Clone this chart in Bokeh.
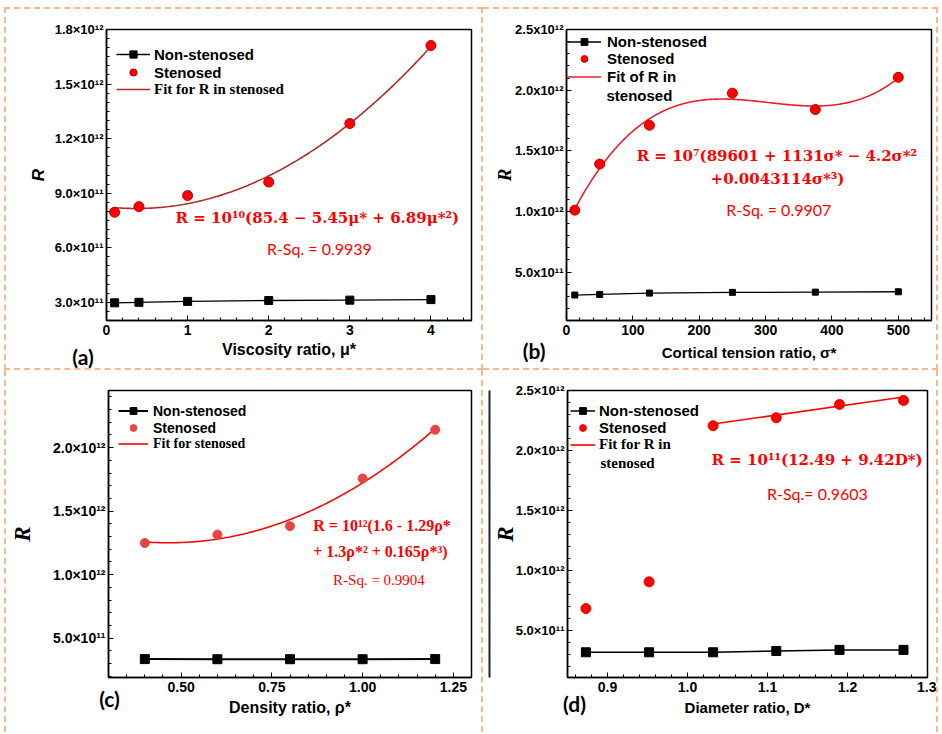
import numpy as np
from bokeh.plotting import figure
from bokeh.layouts import column, row
from bokeh.models import (FixedTicker, CustomJSTickFormatter, NumeralTickFormatter,
                          Legend, LegendItem, Label, LinearAxis)
from bokeh.embed import file_html
from bokeh.resources import INLINE

# ---------------- data ----------------
# (a) viscosity ratio
a_x = [0.1, 0.4, 1, 2, 3, 4]
a_sten = [7.95e11, 8.26e11, 8.87e11, 9.61e11, 1.283e12, 1.712e12]
a_non = [2.97e11, 3.00e11, 3.05e11, 3.10e11, 3.12e11, 3.15e11]
a_xticks = [0, 1, 2, 3, 4]
a_yticks = [3e11, 6e11, 9e11, 1.2e12, 1.5e12, 1.8e12]

# (b) cortical tension ratio
b_x = [12.5, 50, 125, 250, 375, 500]
b_sten = [1.01e12, 1.39e12, 1.71e12, 1.975e12, 1.84e12, 2.106e12]
b_non = [3.10e11, 3.15e11, 3.26e11, 3.32e11, 3.34e11, 3.37e11]
b_xticks = [0, 100, 200, 300, 400, 500]
b_yticks = [5e11, 1e12, 1.5e12, 2e12, 2.5e12]

# (c) density ratio
c_x = [0.4, 0.6, 0.8, 1.0, 1.2]
c_sten = [1.249e12, 1.315e12, 1.382e12, 1.757e12, 2.141e12]
c_non = [3.35e11, 3.34e11, 3.34e11, 3.34e11, 3.35e11]
c_xticks = [0.5, 0.75, 1.0, 1.25]
c_yticks = [5e11, 1e12, 1.5e12, 2e12]

# (d) diameter ratio
d_x = [0.873, 0.952, 1.032, 1.111, 1.190, 1.270]
d_sten = [6.84e11, 9.07e11, 2.207e12, 2.273e12, 2.384e12, 2.417e12]
d_non = [3.20e11, 3.20e11, 3.20e11, 3.31e11, 3.40e11, 3.40e11]
d_fit_coef = [12.49e11, 9.42e11]   # intercept, slope (R = 10^11(12.49 + 9.42 D*))
d_xticks = [0.9, 1.0, 1.1, 1.2, 1.3]
d_yticks = [5e11, 1e12, 1.5e12, 2e12, 2.5e12]

SANS = "Liberation Sans"
SERIF = "Liberation Serif"
RED = "#ff0000"
DASH = "2px dashed #f6b98e"
EM = "\u2003"

SUP_JS = """
const sup = {"0":"\u2070","1":"\u00b9","2":"\u00b2","3":"\u00b3","4":"\u2074","5":"\u2075","6":"\u2076","7":"\u2077","8":"\u2078","9":"\u2079"};
if (tick == 0) return "0";
const e = Math.floor(Math.log10(Math.abs(tick)) + 1e-9);
const m = tick / Math.pow(10, e);
return m.toFixed(1) + sep + "10" + String(e).split("").map(c => sup[c]).join("");
"""


def base(width, height, mb, xr, yr, styles):
    p = figure(width=width, height=height, x_range=xr, y_range=yr,
               output_backend="svg", toolbar_location=None, tools="",
               min_border_left=mb[0], min_border_right=mb[1],
               min_border_top=mb[2], min_border_bottom=mb[3],
               background_fill_color="white", border_fill_color="white",
               styles=styles)
    p.xgrid.visible = False
    p.ygrid.visible = False
    p.outline_line_color = "black"
    p.outline_line_width = 1.5
    p.outline_line_alpha = 1
    for ax in (p.xaxis[0], p.yaxis[0]):
        ax.axis_line_color = "black"
        ax.axis_line_width = 1.5
        ax.major_tick_in = 5
        ax.major_tick_out = 0
        ax.minor_tick_in = 3
        ax.minor_tick_out = 0
        ax.major_tick_line_color = "black"
        ax.minor_tick_line_color = "black"
        ax.major_label_text_font = SANS
        ax.major_label_text_font_style = "bold"
        ax.major_label_text_color = "black"
        ax.axis_label_text_color = "black"
    return p


def set_y(p, ticks, minor, sep, size, label, font, fsize, fstyle, standoff, lab_standoff=3):
    ax = p.yaxis[0]
    ax.ticker = FixedTicker(ticks=ticks, minor_ticks=minor)
    ax.formatter = CustomJSTickFormatter(args=dict(sep=sep), code=SUP_JS)
    ax.major_label_text_font_size = size
    ax.major_label_standoff = lab_standoff
    ax.axis_label = label
    ax.axis_label_text_font = font
    ax.axis_label_text_font_size = fsize
    ax.axis_label_text_font_style = fstyle
    ax.axis_label_standoff = standoff


def set_x(p, ticks, minor, fmt, size):
    ax = p.xaxis[0]
    ax.ticker = FixedTicker(ticks=ticks, minor_ticks=minor)
    if fmt:
        ax.formatter = NumeralTickFormatter(format=fmt)
    ax.major_label_text_font_size = size
    ax.major_label_standoff = 4


def title_axis(p, xr, frame_w, tag_px, tag, tag_standoff, title, title_size, title_standoff):
    # second bottom axis: its single tick label is the panel tag, its axis label the x title
    x_tag = xr[0] + tag_px * (xr[1] - xr[0]) / frame_w
    ax = LinearAxis(ticker=FixedTicker(ticks=[x_tag], minor_ticks=[]),
                    formatter=CustomJSTickFormatter(args=dict(t=tag), code="return t"),
                    axis_line_alpha=0, major_tick_line_alpha=0, minor_tick_line_alpha=0,
                    major_tick_in=0, major_tick_out=0, minor_tick_in=0, minor_tick_out=0,
                    major_label_standoff=tag_standoff, major_label_text_font="Lato",
                    major_label_text_font_size="21px", major_label_text_font_style="bold",
                    major_label_text_color="black",
                    axis_label=title, axis_label_text_font=SANS,
                    axis_label_text_font_size=title_size, axis_label_text_font_style="bold",
                    axis_label_text_color="black", axis_label_standoff=title_standoff)
    p.add_layout(ax, "below")


def legend(p, items, x_off, top_off, row_h, font, size, frame_h, glyph_w, standoff):
    n = len(items)
    lg = Legend(items=items, location=(x_off, frame_h - top_off - n * row_h),
                label_text_font=font, label_text_font_size=size,
                label_text_font_style="bold", label_text_color="black",
                label_height=row_h, glyph_height=row_h, glyph_width=glyph_w,
                label_standoff=standoff, spacing=0, padding=0, margin=0,
                background_fill_alpha=0, border_line_alpha=0)
    p.add_layout(lg)


def text(p, x, y, s, font, size, style="bold", color=RED, align="center", units="data"):
    p.add_layout(Label(x=x, y=y, x_units=units, y_units=units, text=s,
                       text_font=font, text_font_size=size, text_font_style=style,
                       text_color=color, text_align=align, text_baseline="middle"))


W1, W2 = 479, 455
H1, H2 = 363, 362

# ---------------- (a) ----------------
mb = (100, 14, 20, 52)
xr, yr = (0, 4.5), (2.0e11, 1.8e12)
pa = base(W1, H1, mb, xr, yr,
          {"border-top": DASH, "border-left": DASH, "border-right": DASH, "border-bottom": DASH})
set_y(pa, a_yticks, list(np.arange(2.0e11, 1.8e12, 5e10)), "\u00d7", "13px",
      "R", SANS, "17px", "bold italic", 4)
set_x(pa, a_xticks, list(np.arange(0, 4.5, 0.2)), None, "14px")
fw, fh = W1 - mb[0] - mb[1], H1 - mb[2] - mb[3]
title_axis(pa, xr, fw, 8, "(a)" + EM * 4, 6, "Viscosity ratio, \u03bc*", "16px", -31)
fa = np.polyfit(a_x, a_sten, 2)
xa = np.linspace(min(a_x), max(a_x), 200)
ra_fit = pa.line(xa, np.polyval(fa, xa), line_color="#b02a2a", line_width=1.6)
ra_nl = pa.line(a_x, a_non, line_color="black", line_width=1.3)
ra_ns = pa.scatter(a_x, a_non, marker="square", size=8, color="black")
ra_s = pa.scatter(a_x, a_sten, marker="circle", size=10, fill_color=RED, line_color="#c00000")
legend(pa, [LegendItem(label="Non-stenosed", renderers=[ra_nl, ra_ns]),
            LegendItem(label="Stenosed", renderers=[ra_s])],
       10, 16, 18, SANS, "15px", fh, 34, 4)
legend(pa, [LegendItem(label="Fit for R in stenosed", renderers=[ra_fit])],
       10, 51, 18, SERIF, "15px", fh, 34, 4)
text(pa, 2.60, 7.62e11, "R = 10\u00b9\u2070(85.4 \u2212 5.45\u03bc* + 6.89\u03bc*\u00b2)", "DejaVu Serif", "15px")
text(pa, 2.65, 5.97e11, "R-Sq. =  0.9939", "Lato", "16px", style="normal")

# ---------------- (b) ----------------
mb = (83, 7, 19, 51)
xr, yr = (0, 550), (1.0e11, 2.5e12)
pb = base(W2, H1, mb, xr, yr,
          {"border-top": DASH, "border-right": DASH, "border-bottom": DASH})
set_y(pb, b_yticks, list(np.arange(1e11, 2.5e12, 1e11)), "x", "13px",
      "R", SERIF, "19px", "bold italic", -3)
set_x(pb, b_xticks, list(np.arange(0, 551, 20)), None, "14px")
fw, fh = W2 - mb[0] - mb[1], H1 - mb[2] - mb[3]
title_axis(pb, xr, fw, 7, "(b)" + EM * 5, 0, "Cortical tension ratio, \u03c3*", "15px", -22)
fb = np.polyfit(b_x, b_sten, 3)
xb = np.linspace(min(b_x), max(b_x), 300)
rb_fit = pb.line(xb, np.polyval(fb, xb), line_color="#e8202a", line_width=1.6)
rb_nl = pb.line(b_x, b_non, line_color="black", line_width=1.3)
rb_ns = pb.scatter(b_x, b_non, marker="square", size=6, color="black")
rb_s = pb.scatter(b_x, b_sten, marker="circle", size=10, fill_color=RED, line_color="#c00000")
legend(pb, [LegendItem(label="Non-stenosed", renderers=[rb_nl, rb_ns]),
            LegendItem(label="Stenosed", renderers=[rb_s])],
       1, 6, 17, SANS, "15px", fh, 34, 6)
legend(pb, [LegendItem(label="Fit of R in", renderers=[rb_fit])],
       1, 41, 17, SANS, "15px", fh, 34, 6)
text(pb, 40, fh - 67.7, "stenosed", SANS, "15px", color="black", align="left", units="screen")
text(pb, 317, 1.453e12, "R = 10\u2077(89601 + 1131\u03c3* \u2212 4.2\u03c3*\u00b2", "DejaVu Serif", "15px")
text(pb, 318, 1.265e12, "+0.0043114\u03c3*\u00b3)", "DejaVu Serif", "15px")
text(pb, 323, 1.012e12, "R-Sq. =  0.9907", "Lato", "16px", style="normal")

# ---------------- (c) ----------------
mb = (99, 14, 14, 55)
xr, yr = (0.3, 1.3), (1.9e11, 2.45e12)
pc = base(W1, H2, mb, xr, yr, {"border-left": DASH, "border-right": DASH})
set_y(pc, c_yticks, list(np.arange(2e11, 2.45e12, 1e11)), "\u00d7", "14px",
      "R", SERIF, "23px", "bold italic", 15)
set_x(pc, c_xticks, list(np.arange(0.3, 1.3001, 0.05)), "0.00", "14px")
fw, fh = W1 - mb[0] - mb[1], H2 - mb[2] - mb[3]
title_axis(pc, xr, fw, 1, "(c)", -9, "Density ratio, \u03c1*", "16px", -15)
fc = np.polyfit(c_x, c_sten, 3)
xc = np.linspace(min(c_x), max(c_x), 200)
rc_fit = pc.line(xc, np.polyval(fc, xc), line_color=RED, line_width=1.6)
rc_nl = pc.line(c_x, c_non, line_color="black", line_width=2)
rc_ns = pc.scatter(c_x, c_non, marker="square", size=9, color="black")
rc_s = pc.scatter(c_x, c_sten, marker="circle", size=9, fill_color="#e84444", line_color="#e84444")
legend(pc, [LegendItem(label="Non-stenosed", renderers=[rc_nl, rc_ns]),
            LegendItem(label="Stenosed", renderers=[rc_s])],
       10, 18, 17, SANS, "14px", fh, 30, 5)
legend(pc, [LegendItem(label="Fit for stenosed", renderers=[rc_fit])],
       10, 51, 17, SERIF, "14px", fh, 30, 5)
text(pc, 0.864, 1.385e12, "R = 10\u00b9\u00b2(1.6 - 1.29\u03c1*", SERIF, "16px", align="left")
text(pc, 0.864, 1.182e12, "+ 1.3\u03c1*\u00b2 + 0.165\u03c1*\u00b3)", SERIF, "16px", align="left")
text(pc, 1.045, 0.957e12, "R-Sq. = 0.9904", SERIF, "15px", style="normal")

# ---------------- (d) ----------------
mb = (84, 11, 20, 55)
xr, yr = (0.85, 1.3), (1.1e11, 2.5e12)
pd_ = base(W2, H2, mb, xr, yr, {"border-right": DASH})
set_y(pd_, d_yticks, list(np.arange(2e11, 2.5e12, 1e11)), "\u00d7", "13px",
      "R", SERIF, "23px", "bold italic", -5)
set_x(pd_, d_xticks, list(np.arange(0.86, 1.3001, 0.02)), "0.0", "14px")
# the dark vertical rule seen at the left edge of panel (d)
pd_.add_layout(LinearAxis(ticker=FixedTicker(ticks=[], minor_ticks=[]),
                          axis_line_color="#222222", axis_line_width=2,
                          major_tick_in=0, major_tick_out=0, minor_tick_in=0, minor_tick_out=0,
                          major_label_text_alpha=0, major_label_standoff=0), "left")
fw, fh = W2 - mb[0] - mb[1], H2 - mb[2] - mb[3]
title_axis(pd_, xr, fw, 7, "(d)", -4, "Diameter ratio, D*", "15px", -20)
xd = np.array([d_x[2], d_x[-1]])
rd_fit = pd_.line(xd, d_fit_coef[0] + d_fit_coef[1] * xd, line_color=RED, line_width=1.6)
rd_nl = pd_.line(d_x, d_non, line_color="black", line_width=1.5)
rd_ns = pd_.scatter(d_x, d_non, marker="square", size=9, color="black")
rd_s = pd_.scatter(d_x, d_sten, marker="circle", size=10, fill_color=RED, line_color=RED)
legend(pd_, [LegendItem(label="Non-stenosed", renderers=[rd_nl, rd_ns]),
             LegendItem(label="Stenosed", renderers=[rd_s])],
       3, 12, 17, SANS, "15px", fh, 25, 4)
legend(pd_, [LegendItem(label="Fit for R in", renderers=[rd_fit])],
       3, 46, 17, SERIF, "15px", fh, 25, 4)
text(pd_, 33, fh - 72, "stenosed", SERIF, "15px", color="black", align="left", units="screen")
text(pd_, 1.162, 1.921e12, "R = 10\u00b9\u00b9(12.49 + 9.42D*)", "DejaVu Serif", "15px")
text(pd_, 1.165, 1.644e12, "R-Sq.=  0.9603", "Lato", "16px", style="normal")

page = column(row(pa, pb), row(pc, pd_))
page.styles = {"margin-left": "4px", "margin-top": "7px"}

with open("out.html", "w", encoding="utf-8") as f:
    f.write(file_html(page, INLINE))
